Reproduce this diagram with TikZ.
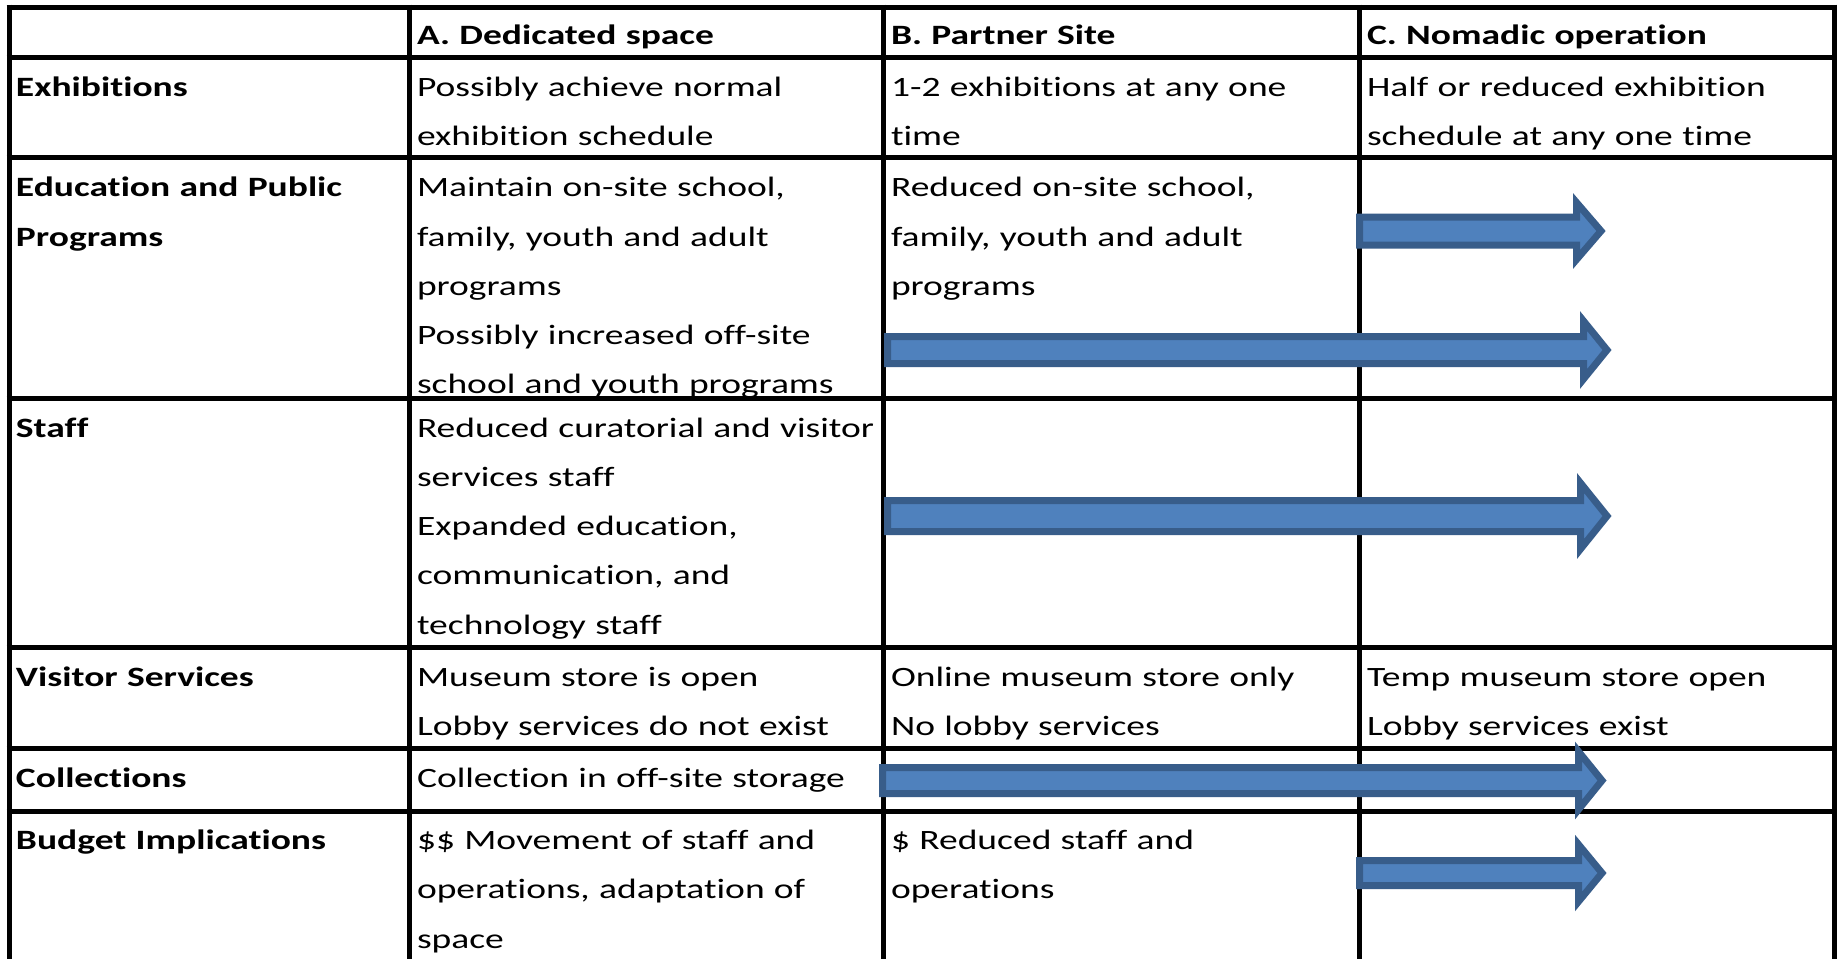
\documentclass[tikz,border=0pt]{standalone}
\usepackage{fontspec}
\setmainfont{Carlito}[FakeStretch=1.34,Ligatures={NoCommon},RawFeature={-liga}]
\definecolor{arrowfill}{HTML}{4F81BD}
\definecolor{arrowline}{HTML}{385D8A}
\newcommand\blkarrow[6]{% x0, xb, xt, yc, sh, hh
  \draw[blockarrow] ({#1+3.5},{#4-#5+3.5}) -- ({#2+3.5},{#4-#5+3.5}) -- ({#2+3.5},{#4-#6+5})
    -- ({#3-5},{#4}) -- ({#2+3.5},{#4+#6-5}) -- ({#2+3.5},{#4+#5-3.5}) -- ({#1+3.5},{#4+#5-3.5}) -- cycle;}
\begin{document}
\begin{tikzpicture}[x=0.5pt,y=-0.5pt,
  celltext/.style={anchor=base west,inner sep=0pt,outer sep=0pt,text width=300pt,align=left,
    font=\fontsize{14}{24.65}\selectfont},
  headtext/.style={celltext,font=\fontsize{14}{24.65}\selectfont\bfseries},
  gridline/.style={line width=2.5pt,black},
  blockarrow/.style={fill=arrowfill,draw=arrowline,line width=3.5pt,line join=miter}]
\useasboundingbox[fill=white] (0,0) rectangle (1839,959);
% header row
\node[headtext] (hA) at (417,44) {A. Dedicated space};
\node[headtext] (hB) at (891,44) {B. Partner Site};
\node[headtext] (hC) at (1367,44) {C. Nomadic operation};
% Exhibitions
\node[headtext] (l1) at (16,96) {Exhibitions};
\node[celltext] (a1) at (417,96) {Possibly achieve normal\\exhibition schedule};
\node[celltext] (b1) at (891,96) {1-2 exhibitions at any one\\time};
\node[celltext] (c1) at (1367,96) {Half or reduced exhibition\\schedule at any one time};
% Education
\node[headtext] (l2) at (16,196.7) {Education and Public\\Programs};
\node[celltext] (a2) at (417,196.7) {Maintain on-site school,\\family, youth and adult\\programs\\Possibly increased off-site\\school and youth programs};
\node[celltext] (b2) at (891,196.7) {Reduced on-site school,\\family, youth and adult\\programs};
% Staff
\node[headtext] (l3) at (16,437) {Staff};
\node[celltext] (a3) at (417,437) {Reduced curatorial and visitor\\services staff\\Expanded education,\\communication, and\\technology staff};
% Visitor services
\node[headtext] (l4) at (16,686.5) {Visitor Services};
\node[celltext] (a4) at (417,686.5) {Museum store is open\\Lobby services do not exist};
\node[celltext] (b4) at (891,686.5) {Online museum store only\\No lobby services};
\node[celltext] (c4) at (1367,686.5) {Temp museum store open\\Lobby services exist};
% Collections
\node[headtext] (l5) at (16,787.3) {Collections};
\node[celltext] (a5) at (417,787.3) {Collection in off-site storage};
% Budget
\node[headtext] (l6) at (16,849.5) {Budget Implications};
\node[celltext] (a6) at (417,849.5) {\$\$ Movement of staff and\\operations, adaptation of\\space};
\node[celltext] (b6) at (891,849.5) {\$ Reduced staff and\\operations};
% grid
\foreach \yy in {7,57,157.5,398.5,647,748,811.5}
  \draw[gridline] (6.5,\yy) -- (1836.5,\yy);
\foreach \xx in {9,409,883,1359,1834}
  \draw[gridline] (\xx,4.5) -- (\xx,959);
% arrows
\blkarrow{1356}{1573}{1606}{231}{17.5}{33.5}
\blkarrow{884}{1580}{1612}{350}{17}{34}
\blkarrow{884}{1577}{1612}{516}{19}{38}
\blkarrow{879}{1575}{1607}{780.5}{16.5}{34}
\blkarrow{1356}{1575}{1607}{873}{16}{33.5}
\end{tikzpicture}
\end{document}
